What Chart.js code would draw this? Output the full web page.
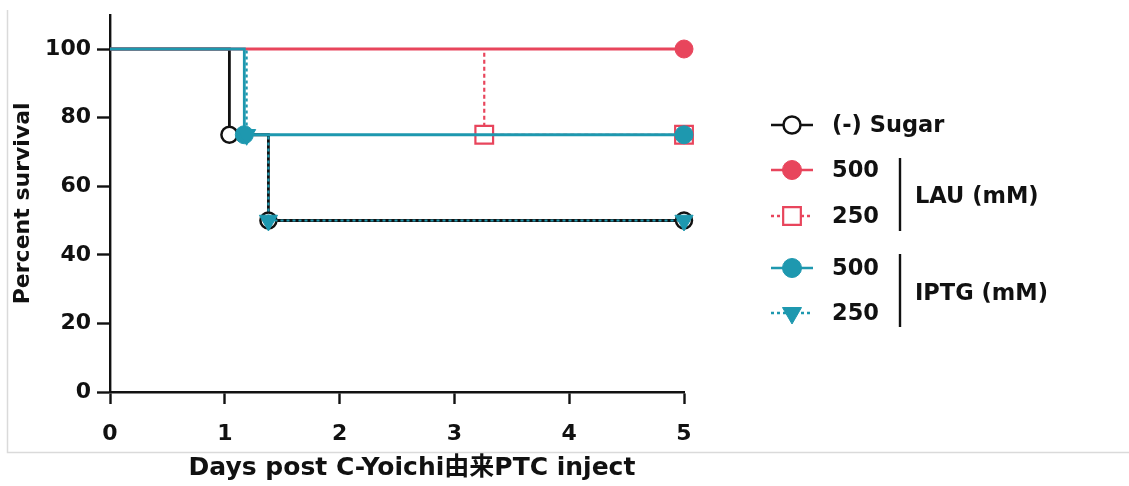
<!DOCTYPE html>
<html>
<head>
<meta charset="utf-8">
<script src="https://cdn.jsdelivr.net/npm/chart.js@4.4.1/dist/chart.umd.min.js"></script>
<style>
html,body{margin:0;padding:0;background:#fff;}
#wrap{position:relative;width:1129px;height:486px;}
</style>
</head>
<body>
<div id="wrap"><canvas id="c" width="1129" height="486"></canvas></div>
<script>
// ---- data ----
const sugarX = [0, 1.04, 1.38, 5];
const sugarY = [100, 75, 50, 50];
const lau500X = [0, 5];
const lau500Y = [100, 100];
const lau250X = [0, 3.26, 5];
const lau250Y = [100, 75, 75];
const iptg500X = [0, 1.17, 5];
const iptg500Y = [100, 75, 75];
const iptg250X = [0, 1.19, 1.38, 5];
const iptg250Y = [100, 75, 50, 50];
const xTicks = [0, 1, 2, 3, 4, 5];
const yTicks = [0, 20, 40, 60, 80, 100];
const legendLabels = ['(-) Sugar', '500', '250', '500', '250'];
const groupLabels = ['LAU (mM)', 'IPTG (mM)'];
const xTitle = 'Days post C-Yoichi由来PTC inject';
const yTitle = 'Percent survival';

const RED = '#E8455C';
const TEAL = '#1E98AF';
const FONT = '"DejaVu Sans", "Noto Sans CJK JP", sans-serif';

function pts(xs, ys) { return xs.map((x, i) => ({x: x, y: ys[i]})); }
function radii(xs, r) { return xs.map((x, i) => i === 0 ? 0 : r); }

const datasets = [
  {label: legendLabels[0], data: pts(sugarX, sugarY), borderColor: '#111', backgroundColor: '#fff',
   pointBorderColor: '#111', pointBackgroundColor: '#fff', pointStyle: 'circle', pointRadius: radii(sugarX, 8),
   pointBorderWidth: 2.5, borderWidth: 2.8, stepped: 'before', order: 5, clip: false},
  {label: legendLabels[1], data: pts(lau500X, lau500Y), borderColor: RED, backgroundColor: RED,
   pointBorderColor: RED, pointBackgroundColor: RED, pointStyle: 'circle', pointRadius: radii(lau500X, 9),
   pointBorderWidth: 1, borderWidth: 2.8, stepped: 'before', order: 3, clip: false},
  {label: legendLabels[2], data: pts(lau250X, lau250Y), borderColor: RED, backgroundColor: '#fff',
   pointBorderColor: RED, pointBackgroundColor: '#fff', pointStyle: 'rect', pointRadius: radii(lau250X, 12.5),
   pointBorderWidth: 2.2, borderWidth: 2.2, borderDash: [4, 3], stepped: 'before', order: 4, clip: false},
  {label: legendLabels[3], data: pts(iptg500X, iptg500Y), borderColor: TEAL, backgroundColor: TEAL,
   pointBorderColor: TEAL, pointBackgroundColor: TEAL, pointStyle: 'circle', pointRadius: radii(iptg500X, 9),
   pointBorderWidth: 1, borderWidth: 2.8, stepped: 'before', order: 2, clip: false},
  {label: legendLabels[4], data: pts(iptg250X, iptg250Y), borderColor: TEAL, backgroundColor: TEAL,
   pointBorderColor: TEAL, pointBackgroundColor: TEAL, pointStyle: 'triangle', pointRotation: 180,
   pointRadius: radii(iptg250X, 10.5), pointBorderWidth: 1, borderWidth: 2.2, borderDash: [3, 3],
   stepped: 'before', order: 1, clip: false}
];

function drawSym(ctx, style, x, y, r, fill, stroke, lw) {
  ctx.save();
  ctx.lineWidth = lw; ctx.fillStyle = fill; ctx.strokeStyle = stroke;
  ctx.beginPath();
  if (style === 'circle') {
    ctx.arc(x, y, r, 0, Math.PI * 2);
  } else if (style === 'rect') {
    const h = r * Math.SQRT1_2;
    ctx.rect(x - h, y - h, 2 * h, 2 * h);
  } else if (style === 'tri') {
    for (let k = 0; k < 3; k++) {
      const a = Math.PI + k * 2 * Math.PI / 3;
      const px = x + Math.sin(a) * r, py = y - Math.cos(a) * r;
      if (k === 0) ctx.moveTo(px, py); else ctx.lineTo(px, py);
    }
    ctx.closePath();
  }
  ctx.fill(); ctx.stroke();
  ctx.restore();
}

const legendPlugin = {
  id: 'customLegend',
  afterDraw(chart) {
    const ctx = chart.ctx;
    ctx.save();
    // faint frame of the original figure
    ctx.strokeStyle = '#dadada'; ctx.lineWidth = 1.5;
    ctx.beginPath(); ctx.moveTo(7.5, 10); ctx.lineTo(7.5, 452.5); ctx.lineTo(1129, 452.5); ctx.stroke();

    // x axis title (centered as in the original figure)
    ctx.fillStyle = '#111';
    ctx.font = 'bold 25px ' + FONT;
    ctx.textAlign = 'center'; ctx.textBaseline = 'middle';
    ctx.fillText(xTitle, 412, 468);

    const rows = [
      {y: 125, color: '#111', dash: [], style: 'circle', fill: '#fff', r: 8.5, lw: 2.5},
      {y: 170, color: RED, dash: [], style: 'circle', fill: RED, r: 9.5, lw: 1},
      {y: 216, color: RED, dash: [3, 3], style: 'rect', fill: '#fff', r: 12.5, lw: 2.2},
      {y: 268, color: TEAL, dash: [], style: 'circle', fill: TEAL, r: 9.5, lw: 1},
      {y: 313, color: TEAL, dash: [3, 3], style: 'tri', fill: TEAL, r: 11, lw: 1}
    ];
    rows.forEach((row, i) => {
      ctx.save();
      ctx.strokeStyle = row.color; ctx.lineWidth = 2.4; ctx.setLineDash(row.dash);
      ctx.beginPath(); ctx.moveTo(771, row.y); ctx.lineTo(813, row.y); ctx.stroke();
      ctx.restore();
      drawSym(ctx, row.style, 792, row.y, row.r, row.fill, row.color, row.lw);
      ctx.fillStyle = '#111';
      ctx.font = 'bold 22.5px ' + FONT;
      ctx.textAlign = 'left'; ctx.textBaseline = 'middle';
      ctx.fillText(legendLabels[i], 832, row.y + 1);
    });
    // brackets
    ctx.strokeStyle = '#111'; ctx.lineWidth = 2.4;
    ctx.beginPath(); ctx.moveTo(900, 158); ctx.lineTo(900, 231); ctx.stroke();
    ctx.beginPath(); ctx.moveTo(900, 254); ctx.lineTo(900, 327); ctx.stroke();
    ctx.fillStyle = '#111';
    ctx.font = 'bold 22.5px ' + FONT;
    ctx.textAlign = 'left'; ctx.textBaseline = 'middle';
    ctx.fillText(groupLabels[0], 915, 197);
    ctx.fillText(groupLabels[1], 915, 294);
    ctx.restore();
  }
};

new Chart(document.getElementById('c'), {
  type: 'line',
  data: {datasets: datasets},
  options: {
    responsive: false,
    animation: false,
    layout: {padding: {left: 0, right: 445, top: 11, bottom: 0}},
    plugins: {legend: {display: false}, tooltip: {enabled: false}},
    elements: {line: {tension: 0}},
    scales: {
      x: {
        type: 'linear', min: 0, max: 5,
        afterBuildTicks(s) { s.ticks = xTicks.map(v => ({value: v})); },
        afterFit(s) { s.height = 94; s.paddingLeft = 0; s.paddingRight = 0; },
        grid: {drawOnChartArea: false, drawTicks: true, tickLength: 12, tickWidth: 2.4, tickColor: '#111'},
        border: {display: true, color: '#111', width: 2.4},
        ticks: {color: '#111', font: {family: FONT, size: 22, weight: 'bold'}, padding: 17, maxRotation: 0},
        title: {display: false}
      },
      y: {
        type: 'linear', min: 0, max: 110,
        afterBuildTicks(s) { s.ticks = yTicks.map(v => ({value: v})); },
        afterFit(s) { s.width = 110; s.paddingTop = 0; s.paddingBottom = 0; },
        grid: {drawOnChartArea: false, drawTicks: true, tickLength: 13, tickWidth: 2.4, tickColor: '#111'},
        border: {display: true, color: '#111', width: 2.4},
        ticks: {color: '#111', font: {family: FONT, size: 22, weight: 'bold'}, padding: 6},
        title: {display: true, text: yTitle, color: '#111', font: {family: FONT, size: 22, weight: 'bold'}, padding: {top: 10, bottom: 0}}
      }
    }
  },
  plugins: [legendPlugin]
});
</script>
</body>
</html>
